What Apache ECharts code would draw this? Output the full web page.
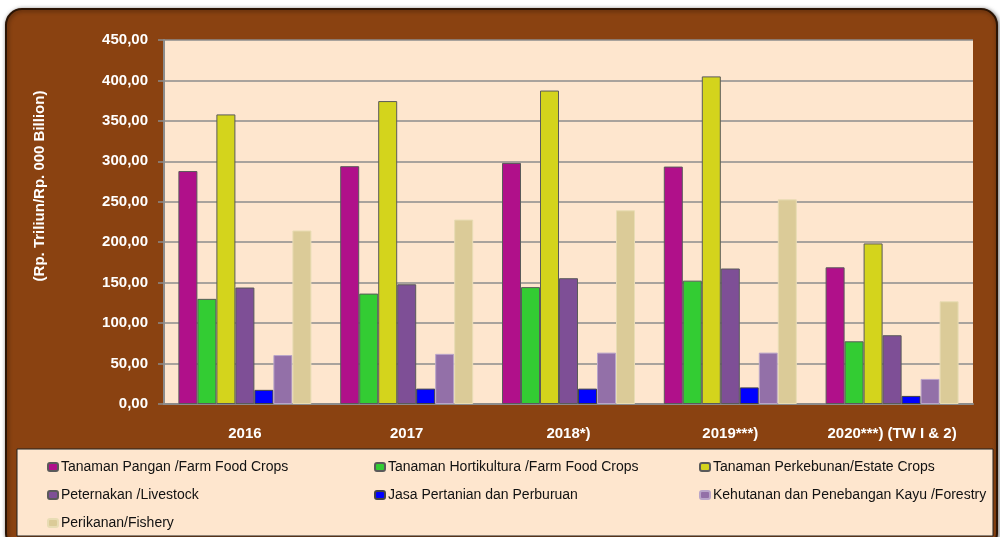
<!DOCTYPE html>
<html>
<head>
<meta charset="utf-8">
<script src="https://cdn.jsdelivr.net/npm/echarts@6/dist/echarts.min.js"></script>
<style>
  html, body { margin: 0; padding: 0; background: #fff; }
  #chart { width: 1000px; height: 537px; }
</style>
</head>
<body>
<div id="chart"></div>
<script>
  // data
  const years = ['2016', '2017', '2018*)', '2019***)', '2020***) (TW I & 2)'];
  const pangan = [288, 294, 298, 293.5, 169];
  const hortikultura = [130, 136.5, 144.5, 152.5, 77.5];
  const perkebunan = [358, 374.5, 387.5, 405, 198.5];
  const peternakan = [144, 148, 155.5, 167.5, 85];
  const jasa = [17.5, 19, 19, 20.5, 10];
  const kehutanan = [60.5, 62, 63.5, 63.5, 31];
  const perikanan = [214.5, 228, 239.5, 253, 127];

  const names = [
    'Tanaman Pangan /Farm Food Crops',
    'Tanaman Hortikultura /Farm Food Crops',
    'Tanaman Perkebunan/Estate Crops',
    'Peternakan /Livestock',
    'Jasa Pertanian dan Perburuan',
    'Kehutanan dan Penebangan Kayu /Forestry',
    'Perikanan/Fishery'
  ];
  const values = [pangan, hortikultura, perkebunan, peternakan, jasa, kehutanan, perikanan];
  const colors = ['#B0108A', '#33CC33', '#D4D41C', '#7E4F96', '#0000FF', '#9370A8', '#DBCB98'];
  const borders = ['#5a5a5a', '#5a5a5a', '#5a5a5a', '#5a5a5a', '#444', '#b9a5c9', '#e8dcb4'];

  const font = "'Liberation Sans', Arial, sans-serif";

  const chart = echarts.init(document.getElementById('chart'));

  const legendBase = {
    orient: 'vertical',
    top: 454,
    height: 100,
    itemWidth: 10,
    itemHeight: 8,
    itemGap: 12,
    textStyle: { color: '#111', fontSize: 14, fontFamily: font, lineHeight: 16, padding: [0, 0, 0, -2] }
  };

  const option = {
    backgroundColor: '#fff',
    animation: false,
    graphic: [
      {
        type: 'rect', z: -10,
        shape: { x: 6, y: 9, width: 991, height: 540, r: 16 },
        style: { fill: '#8A4211', stroke: '#2b1404', lineWidth: 2, shadowBlur: 4, shadowColor: 'rgba(0,0,0,0.5)', shadowOffsetX: 1, shadowOffsetY: 1 }
      },
      {
        type: 'rect', z: -9,
        shape: { x: 17, y: 449, width: 976, height: 87 },
        style: { fill: '#FEE6CE', stroke: '#222', lineWidth: 1 }
      },
      {
        type: 'text',
        x: 40, y: 186,
        rotation: Math.PI / 2,
        style: {
          text: '(Rp. Triliun/Rp. 000 Billion)',
          fill: '#fff',
          font: 'bold 15px ' + font,
          align: 'center',
          verticalAlign: 'middle'
        }
      }
    ],
    legend: [
      Object.assign({}, legendBase, { left: 42, data: [names[0], names[3], names[6]] }),
      Object.assign({}, legendBase, { left: 369, data: [names[1], names[4]] }),
      Object.assign({}, legendBase, { left: 694, data: [names[2], names[5]] })
    ],
    grid: {
      left: 164, right: 27, top: 40, bottom: 133,
      show: true, backgroundColor: '#FEE6CE', borderWidth: 0
    },
    xAxis: {
      type: 'category',
      data: years,
      axisLine: { lineStyle: { color: '#8c8c8c', width: 2 } },
      axisTick: { show: false },
      axisLabel: { color: '#fff', fontWeight: 'bold', fontSize: 15, fontFamily: font, margin: 22, interval: 0 }
    },
    yAxis: {
      type: 'value',
      min: 0, max: 450, interval: 50,
      axisLine: { show: true, lineStyle: { color: '#8c8c8c', width: 2 } },
      axisTick: { show: true, length: 6, lineStyle: { color: '#8c8c8c', width: 1.5 } },
      splitLine: { lineStyle: { color: '#8c8c8c', width: 1.5 } },
      axisLabel: {
        color: '#fff', fontWeight: 'bold', fontSize: 15, fontFamily: font, margin: 16,
        formatter: v => v.toFixed(2).replace('.', ',')
      }
    },
    series: names.map((n, i) => ({
      name: n,
      type: 'bar',
      data: values[i],
      barWidth: 19,
      barGap: '0%',
      itemStyle: { color: colors[i], borderColor: borders[i], borderWidth: 1 }
    }))
  };

  chart.setOption(option);
</script>
</body>
</html>
